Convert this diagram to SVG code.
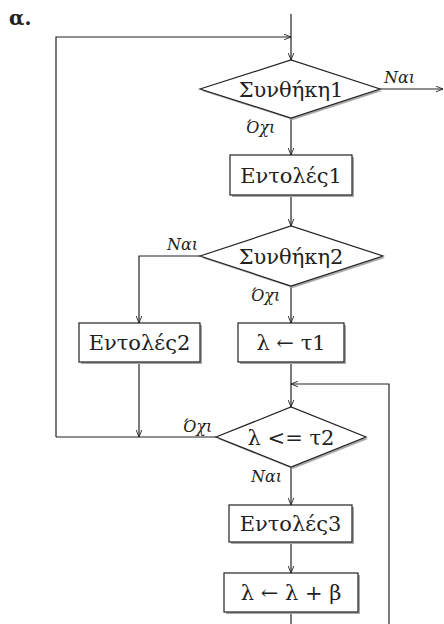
<svg xmlns="http://www.w3.org/2000/svg" width="444" height="624" viewBox="0 0 444 624">
<defs>
<marker id="arr" viewBox="0 0 10 10" refX="10" refY="5" markerWidth="7" markerHeight="7" markerUnits="userSpaceOnUse" orient="auto">
<path d="M0,1 L10,5 L0,9" fill="none" stroke="#222" stroke-width="1.3"/>
</marker>
<style>
.ln{fill:none;stroke:#222;stroke-width:1.2}
.shape{fill:#fff;stroke:#222;stroke-width:1.2}
.sh{fill:#aaa;stroke:none}
.t{font-family:"DejaVu Serif",serif;font-size:21px;fill:#222;text-anchor:middle}
.lb{font-family:"DejaVu Serif",serif;font-size:16px;font-style:italic;fill:#222}
</style>
</defs>
<rect width="444" height="624" fill="#fff"/>
<text x="9" y="25" font-family="DejaVu Serif, serif" font-size="20" font-weight="bold" fill="#222">α.</text>

<g id="connectors">
<path class="ln" d="M291,14 V60" marker-end="url(#arr)"/>
<path class="ln" d="M56,437 V37 H291" marker-end="url(#arr)"/>
<path class="ln" d="M380,89 H443" marker-end="url(#arr)"/>
<path class="ln" d="M291,118 V155" marker-end="url(#arr)"/>
<path class="ln" d="M291,195 V226" marker-end="url(#arr)"/>
<path class="ln" d="M200,256 H139 V323" marker-end="url(#arr)"/>
<path class="ln" d="M291,286 V323" marker-end="url(#arr)"/>
<path class="ln" d="M139,362 V437" marker-end="url(#arr)"/>
<path class="ln" d="M216,437 H56"/>
<path class="ln" d="M291,362 V407" marker-end="url(#arr)"/>
<path class="ln" d="M389,624 V384 H291" marker-end="url(#arr)"/>
<path class="ln" d="M291,467 V505" marker-end="url(#arr)"/>
<path class="ln" d="M291,542 V573" marker-end="url(#arr)"/>
<path class="ln" d="M291,612 V624"/>
<text class="lb" x="384" y="83">Ναι</text>
<text class="lb" x="246" y="133">Όχι</text>
<text class="lb" x="167" y="250">Ναι</text>
<text class="lb" x="251" y="301">Όχι</text>
<text class="lb" x="183" y="432">Όχι</text>
<text class="lb" x="251" y="482">Ναι</text>
</g>

<g id="cond1">
<polygon class="sh" points="202,91 293,62 382,91 293,120"/>
<polygon class="shape" points="200,89 291,60 380,89 291,118"/>
<text class="t" x="291" y="97">Συνθήκη1</text>
</g>
<g id="entoles1">
<rect class="sh" x="232" y="157" width="122" height="40"/>
<rect class="shape" x="230" y="155" width="122" height="40"/>
<text class="t" x="291" y="183">Εντολές1</text>
</g>
<g id="cond2">
<polygon class="sh" points="202,258 293,228 385,258 293,288"/>
<polygon class="shape" points="200,256 291,226 383,256 291,286"/>
<text class="t" x="291" y="264">Συνθήκη2</text>
</g>
<g id="entoles2">
<rect class="sh" x="81" y="325" width="121" height="39"/>
<rect class="shape" x="79" y="323" width="121" height="39"/>
<text class="t" x="139.5" y="350">Εντολές2</text>
</g>
<g id="assign1">
<rect class="sh" x="240" y="325" width="106" height="39"/>
<rect class="shape" x="238" y="323" width="106" height="39"/>
<text class="t" x="291" y="350">λ ← τ1</text>
</g>
<g id="cond3">
<polygon class="sh" points="218,439 293,409 368,439 293,469"/>
<polygon class="shape" points="216,437 291,407 366,437 291,467"/>
<text class="t" x="291" y="445">λ &lt;= τ2</text>
</g>
<g id="entoles3">
<rect class="sh" x="231" y="507" width="123" height="37"/>
<rect class="shape" x="229" y="505" width="123" height="37"/>
<text class="t" x="290.5" y="531">Εντολές3</text>
</g>
<g id="assign2">
<rect class="sh" x="226" y="575" width="134" height="39"/>
<rect class="shape" x="224" y="573" width="134" height="39"/>
<text class="t" x="291" y="600">λ ← λ + β</text>
</g>
</svg>
